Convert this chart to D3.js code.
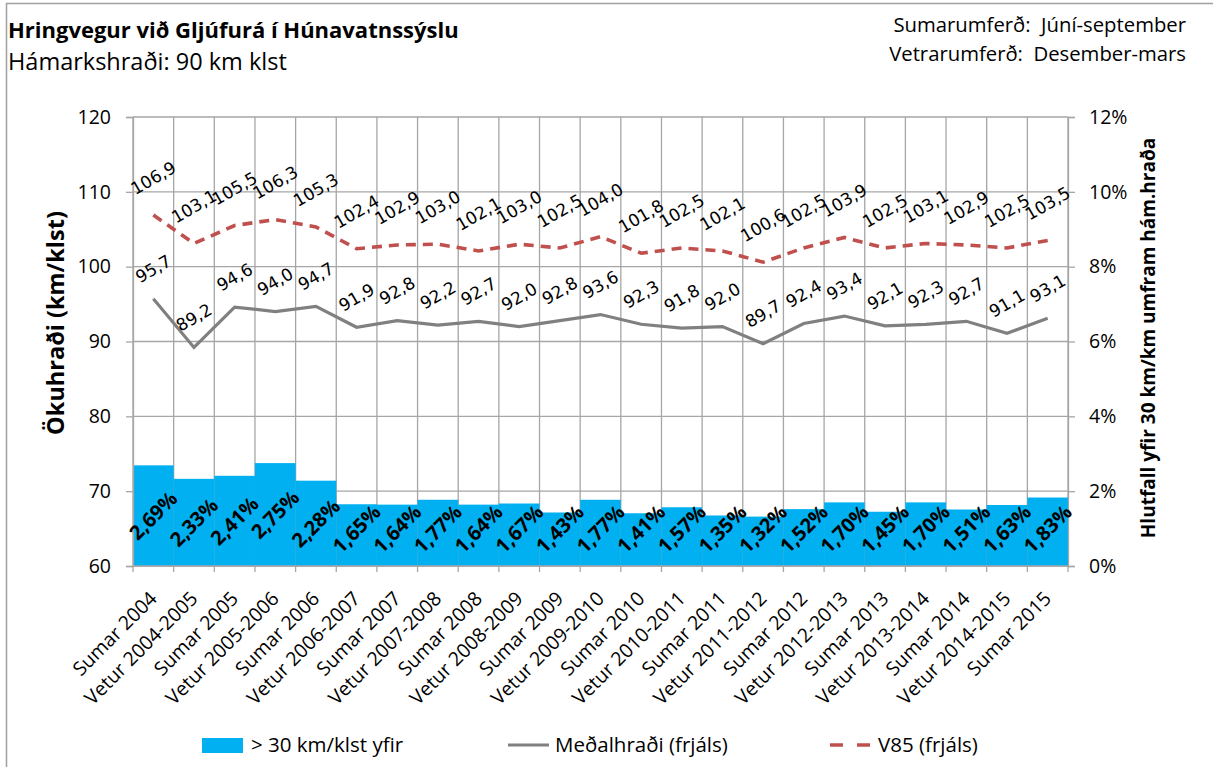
<!DOCTYPE html>
<html>
<head>
<meta charset="utf-8">
<script src="https://cdn.jsdelivr.net/npm/d3@7"></script>
<style>
  html, body { margin: 0; padding: 0; background: #fff; }
  svg { display: block; }
</style>
</head>
<body>
<svg id="chart" width="1213" height="767"></svg>
<script>
const categories = ["Sumar 2004","Vetur 2004-2005","Sumar 2005","Vetur 2005-2006","Sumar 2006","Vetur 2006-2007","Sumar 2007","Vetur 2007-2008","Sumar 2008","Vetur 2008-2009","Sumar 2009","Vetur 2009-2010","Sumar 2010","Vetur 2010-2011","Sumar 2011","Vetur 2011-2012","Sumar 2012","Vetur 2012-2013","Sumar 2013","Vetur 2013-2014","Sumar 2014","Vetur 2014-2015","Sumar 2015"];
const v85 = [106.9,103.1,105.5,106.3,105.3,102.4,102.9,103.0,102.1,103.0,102.5,104.0,101.8,102.5,102.1,100.6,102.5,103.9,102.5,103.1,102.9,102.5,103.5];
const medal = [95.7,89.2,94.6,94.0,94.7,91.9,92.8,92.2,92.7,92.0,92.8,93.6,92.3,91.8,92.0,89.7,92.4,93.4,92.1,92.3,92.7,91.1,93.1];
const overPct = [2.69,2.33,2.41,2.75,2.28,1.65,1.64,1.77,1.64,1.67,1.43,1.77,1.41,1.57,1.35,1.32,1.52,1.70,1.45,1.70,1.51,1.63,1.83];
const leftTicks = [60,70,80,90,100,110,120];
const rightTicks = [0,2,4,6,8,10,12];

const font = "'Open Sans', sans-serif";
const svg = d3.select("#chart");
const X0 = 133, X1 = 1068, Y0 = 117, Y1 = 566;

// frame
svg.append("path").attr("d", "M6.5,767 L6.5,3.5 L1213,3.5").attr("fill","none").attr("stroke","#a0a0a0").attr("stroke-width",1.5);

const x = d3.scaleBand().domain(categories).range([X0, X1]).padding(0);
const yL = d3.scaleLinear().domain([60,120]).range([Y1, Y0]);
const yR = d3.scaleLinear().domain([0,12]).range([Y1, Y0]);
const fmt = d3.format(".1f");
const comma = s => s.replace(".", ",");

// grid
const g = svg.append("g");
g.selectAll(".hg").data(leftTicks).join("line")
  .attr("x1", X0).attr("x2", X1).attr("y1", d => yL(d)).attr("y2", d => yL(d))
  .attr("stroke", "#a6a6a6").attr("stroke-width", 1.3);
const bounds = categories.map(c => x(c)).concat([X1]);
g.selectAll(".vg").data(bounds).join("line")
  .attr("x1", d => d).attr("x2", d => d).attr("y1", Y0).attr("y2", Y1 + 6)
  .attr("stroke", "#a6a6a6").attr("stroke-width", 1.3);

// bars
svg.append("g").selectAll("rect").data(overPct).join("rect")
  .attr("x", (d,i) => x(categories[i]))
  .attr("width", x.bandwidth())
  .attr("y", d => yR(d))
  .attr("height", d => Y1 - yR(d))
  .attr("fill", "#00b0f0");

// axes
const axL = svg.append("g").attr("transform", `translate(${X0},0)`)
  .call(d3.axisLeft(yL).tickValues(leftTicks).tickSize(7).tickPadding(15));
const axR = svg.append("g").attr("transform", `translate(${X1},0)`)
  .call(d3.axisRight(yR).tickValues(rightTicks).tickSize(7).tickPadding(14).tickFormat(d => d + "%"));
[axL, axR].forEach(a => {
  a.select(".domain").attr("stroke", "#a6a6a6").attr("stroke-width", 1.3);
  a.selectAll(".tick line").attr("stroke", "#a6a6a6").attr("stroke-width", 1.3);
  a.selectAll("text").attr("font-family", font).attr("font-size", 19.5).attr("fill", "#000");
});
svg.append("line").attr("x1", X0).attr("x2", X1).attr("y1", Y1).attr("y2", Y1).attr("stroke", "#a6a6a6").attr("stroke-width", 1.3);

// x labels
svg.append("g").selectAll("text").data(categories).join("text")
  .attr("transform", d => `translate(${x(d) + x.bandwidth()/2},${Y1 + 29}) rotate(-45)`)
  .attr("text-anchor", "end").attr("dy", "0.35em")
  .attr("font-family", font).attr("font-size", 19.5).text(d => d);

// lines
const cx = i => x(categories[i]) + x.bandwidth()/2;
svg.append("path").datum(medal)
  .attr("d", d3.line().x((d,i) => cx(i)).y(d => yL(d)))
  .attr("fill", "none").attr("stroke", "#808080").attr("stroke-width", 3.2);
svg.append("path").datum(v85)
  .attr("d", d3.line().x((d,i) => cx(i)).y(d => yL(d)))
  .attr("fill", "none").attr("stroke", "#c0504d").attr("stroke-width", 3.6).attr("stroke-dasharray", "10,7");

// data labels
const lblFont = "'DejaVu Sans', sans-serif";
svg.append("g").selectAll("text").data(v85).join("text")
  .attr("transform", (d,i) => `translate(${cx(i)},${yL(d) - 37}) rotate(-30)`)
  .attr("text-anchor", "middle").attr("dy", "0.35em")
  .attr("font-family", lblFont).attr("font-size", 17).text(d => comma(fmt(d)));
svg.append("g").selectAll("text").data(medal).join("text")
  .attr("transform", (d,i) => `translate(${cx(i)},${yL(d) - 30}) rotate(-30)`)
  .attr("text-anchor", "middle").attr("dy", "0.35em")
  .attr("font-family", lblFont).attr("font-size", 17).text(d => comma(fmt(d)));
svg.append("g").selectAll("text").data(overPct).join("text")
  .attr("transform", (d,i) => `translate(${cx(i)},${Math.min((yR(d) + Y1)/2, Y1 - 37)}) rotate(-45)`)
  .attr("text-anchor", "middle").attr("dy", "0.35em")
  .attr("font-family", font).attr("font-weight", "bold").attr("font-size", 20)
  .text(d => d.toFixed(2).replace(".", ",") + "%");

// titles
svg.append("text").attr("x", 8).attr("y", 38).attr("font-family", font).attr("font-weight", "bold").attr("font-size", 22).text("Hringvegur við Gljúfurá í Húnavatnssýslu");
svg.append("text").attr("x", 8).attr("y", 70).attr("font-family", font).attr("font-size", 23.5).text("Hámarkshraði: 90 km klst");
svg.append("text").attr("x", 1186).attr("y", 32).attr("text-anchor", "end").attr("font-family", font).attr("font-size", 20.3).attr("xml:space","preserve").text("Sumarumferð:  Júní-september");
svg.append("text").attr("x", 1186).attr("y", 61).attr("text-anchor", "end").attr("font-family", font).attr("font-size", 20.3).attr("xml:space","preserve").text("Vetrarumferð:  Desember-mars");

svg.append("text").attr("transform", "translate(56,323) rotate(-90)").attr("text-anchor", "middle").attr("dy", "0.35em")
  .attr("font-family", font).attr("font-weight", "bold").attr("font-size", 23.5).text("Ökuhraði (km/klst)");
svg.append("text").attr("transform", "translate(1148,338) rotate(-90)").attr("text-anchor", "middle").attr("dy", "0.35em")
  .attr("font-family", font).attr("font-weight", "bold").attr("font-size", 19).text("Hlutfall yfir 30 km/km umfram hám.hraða");

// legend
const lg = svg.append("g");
lg.append("rect").attr("x", 202).attr("y", 738).attr("width", 41).attr("height", 15).attr("fill", "#00b0f0");
lg.append("text").attr("x", 251).attr("y", 745).attr("dy", "0.35em").attr("font-family", font).attr("font-size", 20.5).text("> 30 km/klst yfir");
lg.append("line").attr("x1", 508).attr("x2", 549).attr("y1", 745).attr("y2", 745).attr("stroke", "#808080").attr("stroke-width", 3.2);
lg.append("text").attr("x", 555).attr("y", 745).attr("dy", "0.35em").attr("font-family", font).attr("font-size", 20.5).text("Meðalhraði (frjáls)");
lg.append("line").attr("x1", 830).attr("x2", 871).attr("y1", 745).attr("y2", 745).attr("stroke", "#c0504d").attr("stroke-width", 3.6).attr("stroke-dasharray", "13,14");
lg.append("text").attr("x", 878).attr("y", 745).attr("dy", "0.35em").attr("font-family", font).attr("font-size", 20.5).text("V85 (frjáls)");
</script>
</body>
</html>
